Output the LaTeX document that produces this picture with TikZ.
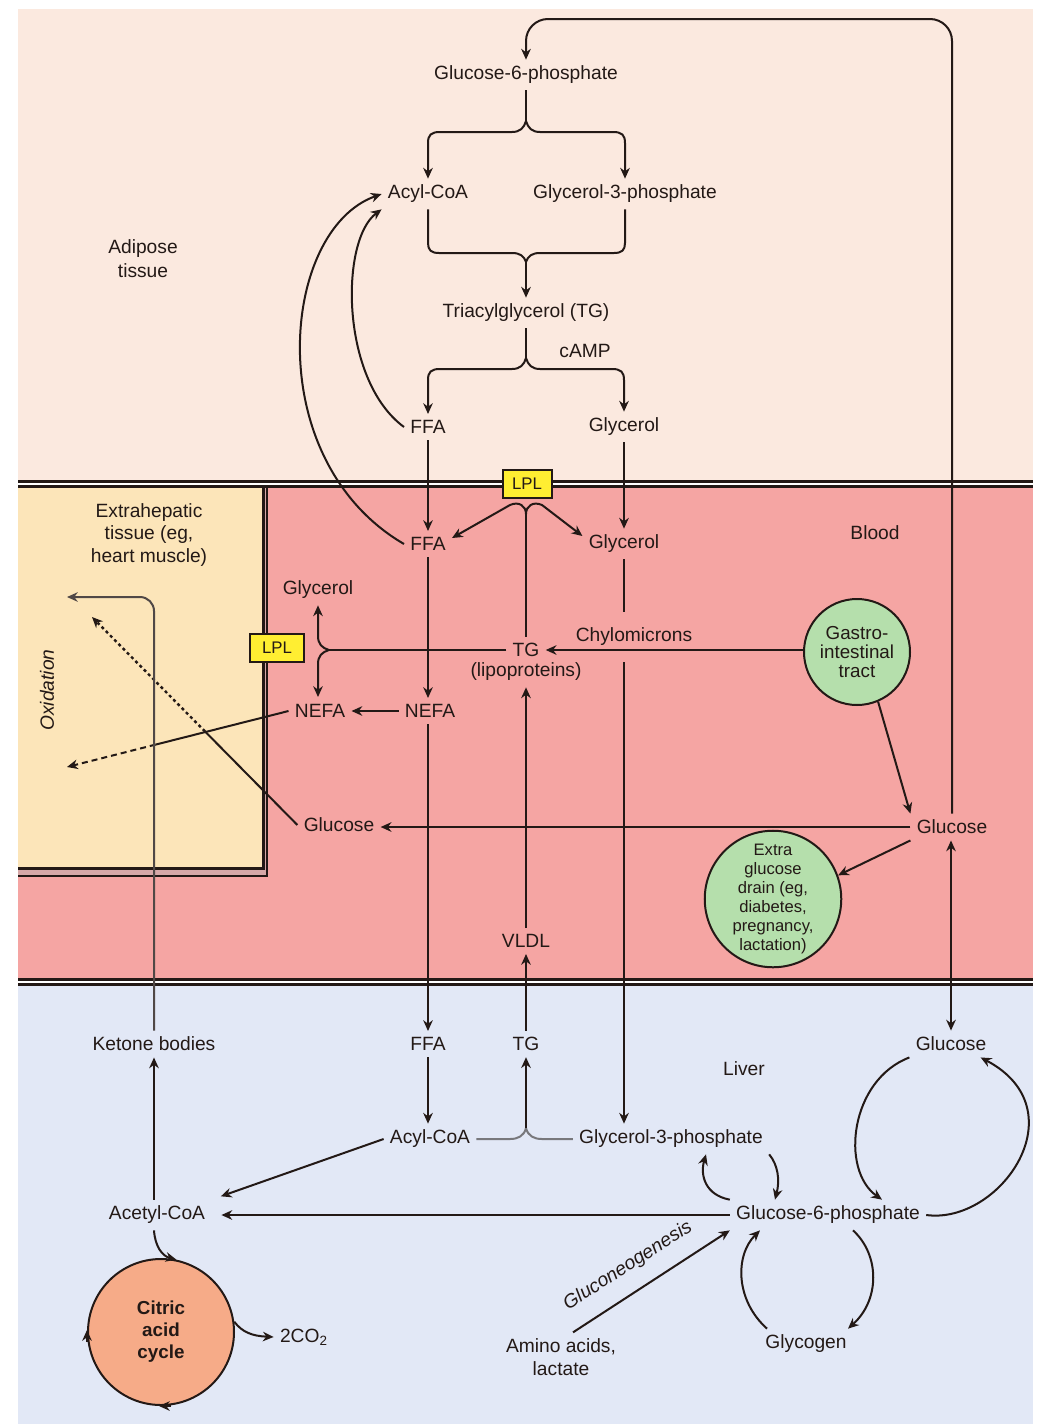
\documentclass[tikz,border=0pt]{standalone}
\usepackage{fontspec}
\setmainfont{Liberation Sans}
\usetikzlibrary{arrows.meta,calc}
\definecolor{ink}{RGB}{35,25,22}
\definecolor{adipc}{RGB}{251,233,223}
\definecolor{bloodc}{RGB}{245,165,163}
\definecolor{liverc}{RGB}{226,232,246}
\definecolor{extrac}{RGB}{252,229,185}
\definecolor{shadowc}{RGB}{214,168,168}
\definecolor{greenc}{RGB}{181,223,172}
\definecolor{salmonc}{RGB}{246,171,136}
\definecolor{lplc}{RGB}{255,238,50}
\definecolor{ketc}{RGB}{80,72,70}
\definecolor{greyline}{RGB}{120,120,124}
\pgfdeclarelayer{back}
\pgfdeclarelayer{mid}
\pgfsetlayers{back,mid,main}
\begin{document}
\begin{tikzpicture}[x=0.5pt,y=-0.5pt,
  lbl/.style={font=\fontsize{9.6}{11.2}\selectfont, text=ink, inner sep=3pt, align=center},
  conn/.style={draw=ink, line width=1pt},
  arr/.style={-{Stealth[length=5.4pt,width=4.8pt]}},
  dblarr/.style={{Stealth[length=5.4pt,width=4.8pt]}-{Stealth[length=5.4pt,width=4.8pt]}},
  lpl/.style={draw=ink, line width=1pt, fill=lplc, font=\fontsize{8.4}{10}\selectfont,
    text=ink, minimum width=24.5pt, minimum height=14pt, inner sep=0pt},
  organ/.style={circle, draw=ink, line width=1pt, fill=greenc, text=ink, inner sep=0pt, align=center},
]
\useasboundingbox (0,0) rectangle (1037,1424);

% ---------- compartments ----------
\begin{pgfonlayer}{back}
\fill[white] (0,0) rectangle (1037,1424);
\fill[adipc] (18,9) rectangle (1033,480);
\fill[bloodc] (18,480) rectangle (1033,979);
\fill[liverc] (18,979) rectangle (1033,1424);
% double membranes
\fill[ink] (18,479.5) rectangle (1033,482.5);
\fill[white] (18,482.5) rectangle (1033,485);
\fill[ink] (18,485) rectangle (1033,488);
\fill[ink] (18,977.5) rectangle (1033,980.5);
\fill[white] (18,980.5) rectangle (1033,983);
\fill[ink] (18,983) rectangle (1033,986);
% extrahepatic tissue box with its shadow
\fill[shadowc] (18,488) rectangle (268,877);
\draw[ink, line width=1pt] (267,488) -- (267,876) -- (18,876);
\fill[extrac] (18,488) rectangle (263,868);
\draw[ink, line width=1.5pt] (263,488) -- (263,868) -- (18,868);
\end{pgfonlayer}

% ---------- adipose tissue ----------
\node[lbl] (g6pA) at (526,75) {Glucose-6-phosphate};
\node[lbl] (acylA) at (428,194) {Acyl-CoA};
\node[lbl] (g3pA) at (625,194) {Glycerol-3-phosphate};
\node[lbl, font=\fontsize{9.6}{12}\selectfont] (adip) at (143,259) {Adipose\\tissue};
\node[lbl] (tgA) at (526,313) {Triacylglycerol (TG)};
\node[lbl] (camp) at (585,351) {cAMP};
\node[lbl] (ffaA) at (428,427) {FFA};
\node[lbl] (glyA) at (624,427) {Glycerol};
\node[lpl] (lplA) at (527,484) {LPL};

% ---------- blood ----------
\node[lbl] (ffaB) at (428,544) {FFA};
\node[lbl] (glyB) at (624,544) {Glycerol};
\node[lbl] (blood) at (875,533) {Blood};
\node[lbl, font=\fontsize{9.6}{11.25}\selectfont] (extra) at (149,535) {Extrahepatic\\tissue (eg,\\heart muscle)};
\node[lbl] (glyC) at (318,590) {Glycerol};
\node[lpl, minimum width=27pt] (lplB) at (277,648) {LPL};
\node[lbl] (tgB) at (526,650) {TG};
\node[lbl] (lipo) at (526,672) {(lipoproteins)};
\node[organ, minimum size=53pt, font=\fontsize{9.4}{9.5}\selectfont] (gut) at (857,652) {Gastro-\\intestinal\\tract};
\node[lbl] (nefaL) at (320,711) {NEFA};
\node[lbl] (nefaR) at (430,711) {NEFA};
\node[lbl, rotate=90, font=\fontsize{9.6}{11}\itshape] (oxid) at (47,690) {Oxidation};
\node[lbl] (gluL) at (339,825) {Glucose};
\node[lbl] (gluB) at (952,827) {Glucose};
\node[organ, minimum size=66pt, font=\fontsize{8.3}{9.5}\selectfont] (drain) at (773,899)
  {Extra\\glucose\\drain (eg,\\diabetes,\\pregnancy,\\lactation)};
\node[lbl] (vldl) at (526,941) {VLDL};

% ---------- liver ----------
\node[lbl] (keto) at (154,1044) {Ketone bodies};
\node[lbl] (ffaL) at (428,1044) {FFA};
\node[lbl] (tgL) at (526,1044) {TG};
\node[lbl] (gluLv) at (951,1044) {Glucose};
\node[lbl] (liver) at (744,1069) {Liver};
\node[lbl] (acylL) at (430,1139) {Acyl-CoA};
\node[lbl] (g3pL) at (671,1139) {Glycerol-3-phosphate};
\node[lbl] (acet) at (157,1215) {Acetyl-CoA};
\node[lbl] (g6pL) at (828,1215) {Glucose-6-phosphate};
\node[circle, draw=ink, line width=1pt, fill=salmonc, minimum size=73pt, inner sep=0pt,
  align=center, text=ink, font=\fontsize{9.4}{11}\bfseries] (tca) at (161,1332) {Citric\\acid\\cycle};
\node[lbl] (co2) at (304,1337) {2CO\textsubscript{2}};
\node[lbl] (amino) at (561,1357) {Amino acids,\\lactate};
\node[lbl, rotate=32.5, font=\fontsize{9.6}{11}\itshape, inner sep=1pt] (gng) at (628,1266) {Gluconeogenesis};
\node[lbl] (glycogen) at (806,1344) {Glycogen};

% ---------- connectors: adipose tissue ----------
\coordinate (top) at (0,19);
\draw[conn, arr, rounded corners=11pt] (gluB.north) -- (gluB.north |- top) -- (g6pA.north |- top) -- (g6pA.north);

\coordinate (jA) at (526,121);
\draw[conn] (g6pA.south) -- (jA);
\draw[conn, arr] (jA) .. controls (524,128) and (520,132) .. (512,132) -- (440,132)
  .. controls (431,132) and (428,135) .. (428,143) -- (acylA.north);
\draw[conn, arr] (jA) .. controls (528,128) and (532,132) .. (540,132) -- (613,132)
  .. controls (622,132) and (625,135) .. (625,143) -- (g3pA.north);

\coordinate (jB) at (526,262);
\draw[conn] (acylA.south) -- (428,243) .. controls (428,250) and (431,253) .. (439,253)
  -- (512,253) .. controls (520,253) and (524,256) .. (jB);
\draw[conn] (g3pA.south) -- (625,243) .. controls (625,250) and (622,253) .. (614,253)
  -- (540,253) .. controls (532,253) and (528,256) .. (jB);
\draw[conn, arr] (jB) -- (tgA.north);

\coordinate (jC) at (526,358);
\draw[conn] (tgA.south) -- (jC);
\draw[conn, arr] (jC) .. controls (524,365) and (520,369) .. (512,369) -- (440,369)
  .. controls (431,369) and (428,372) .. (428,380) -- (ffaA.north);
\draw[conn, arr] (jC) .. controls (528,365) and (532,369) .. (540,369) -- (612,369)
  .. controls (621,369) and (624,372) .. (624,380) -- (glyA.north);

\draw[conn, arr] (ffaA.south) -- (ffaB.north);
\draw[conn, arr] (glyA.south) -- (glyB.north);

% fatty acids re-esterified in adipose tissue
\draw[conn, arr] (ffaA.west) .. controls (340,380) and (340,240) .. (acylA.south west);
\draw[conn, arr] (ffaB.west) .. controls (260,460) and (280,230) .. (acylA.west);

% ---------- connectors: blood ----------
\coordinate (jD) at (526,514);
\draw[conn] (tgB.north) -- (jD);
\draw[conn, arr] (jD) .. controls (526,506) and (519,501) .. (510,505) -- ([yshift=3pt]ffaB.east);
\draw[conn, arr] (jD) .. controls (526,506) and (533,501) .. (542,505) -- ([yshift=4pt]glyB.west);

\begin{pgfonlayer}{mid}
\draw[conn, arr] (glyB.south) -- (glyB.south |- g3pL.north);
\end{pgfonlayer}
\node[lbl, fill=bloodc, minimum height=25pt] (chylo) at (634,637) {Chylomicrons};
\draw[conn, arr] (gut.west |- tgB.east) -- (tgB.east);

\coordinate (jE) at (329,650);
\draw[conn] (tgB.west) -- (jE);
\draw[conn, arr] (jE) .. controls (322,648) and (318,644) .. (318,636) -- (glyC.south);
\draw[conn, arr] (jE) .. controls (322,652) and (318,656) .. (318,664) -- (318,697);

\draw[conn, arr] (ffaB.south) -- (ffaB.south |- nefaR.north);
\draw[conn, arr] (nefaR.west) -- (nefaL.east);
\draw[conn, arr] (ffaL.north |- nefaR.south) -- (ffaL.north);

% oxidation in extrahepatic tissue
\coordinate (oxLow) at (67,767);
\coordinate (oxHigh) at (92,617);
\coordinate (oxKet) at (67,597);
\draw[conn] (nefaL.west) -- ($(nefaL.west)!0.6!(oxLow)$);
\draw[conn, arr, dash pattern=on 3pt off 2pt] ($(nefaL.west)!0.6!(oxLow)$) -- (oxLow);
\draw[conn] (gluL.west) -- ($(gluL.west)!0.45!(oxHigh)$);
\draw[conn, arr, line width=1.2pt, dash pattern=on 1.5pt off 1.5pt] ($(gluL.west)!0.45!(oxHigh)$) -- (oxHigh);
\draw[conn, draw=ketc, arr, rounded corners=7pt] (keto.north) -- (keto.north |- oxKet) -- (oxKet);

\draw[conn, arr] (gluB.west) -- (gluB.west -| gluL.east);
\draw[conn, arr] (gut.-67) -- (gluB.north west);
\draw[conn, arr] (gluB.south west) -- (drain.20);
\draw[conn, dblarr] (gluLv.north) -- (gluLv.north |- gluB.south);

% ---------- connectors: liver ----------
\draw[conn, arr] (tgL.north) -- (vldl.south);
\draw[conn, arr] (vldl.north) -- (lipo.south);
\draw[conn, arr] (ffaL.south) -- (ffaL.south |- acylL.north);

\coordinate (jF) at (526,1128);
\draw[conn, draw=greyline] (acylL.east) -- (510,1139) .. controls (518,1139) and (524,1136) .. (jF);
\draw[conn, draw=greyline] (g3pL.west) -- (542,1139) .. controls (534,1139) and (528,1136) .. (jF);
\draw[conn, arr] (jF) -- (tgL.south);

\draw[conn, arr, shorten >=5pt] (acylL.west) -- (acet.north east);
\draw[conn, arr, shorten >=5pt] (g6pL.west) -- (acet.east);
\draw[conn, arr] (keto.south |- acet.north) -- (keto.south);
\draw[conn, arr] (keto.south |- acet.south) .. controls (155,1246) and (162,1256) .. (tca.78);
\draw[conn, arr] ([yshift=-5pt]tca.west) -- ([yshift=1pt]tca.west);
\draw[conn, arr] ([xshift=5pt]tca.south) -- ([xshift=-1pt]tca.south);
\draw[conn, arr] (tca.8) .. controls (242,1332) and (252,1336) .. (co2.west);

\draw[conn, arr] (gluLv.south west) .. controls (850,1080) and (840,1170) .. ([xshift=27pt]g6pL.north);
\draw[conn, arr] (g6pL.east) .. controls (1000,1225) and (1080,1110) .. ([xshift=-6pt]gluLv.south east);
\draw[conn, arr] (g6pL.north west) .. controls (705,1195) and (700,1175) .. ([xshift=17.5pt]g3pL.south);
\draw[conn, arr] (g3pL.south east) .. controls (778,1165) and (780,1180) .. ([xshift=-26.5pt]g6pL.north);
\draw[conn, arr] ([xshift=6pt]amino.north) -- (g6pL.south west);
\draw[conn, arr] ([xshift=4pt]glycogen.north west) .. controls (735,1300) and (735,1255) .. ([xshift=-34pt]g6pL.south);
\draw[conn, arr] ([xshift=12.5pt]g6pL.south) .. controls (880,1255) and (880,1300) .. ([xshift=21pt]glycogen.north);
\end{tikzpicture}
\end{document}
